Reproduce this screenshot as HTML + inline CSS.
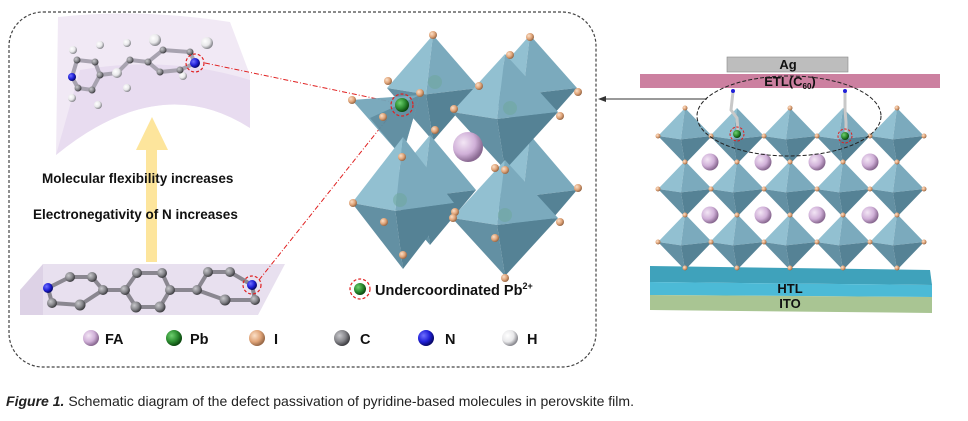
<!DOCTYPE html>
<html><head><meta charset="utf-8"><style>
html,body{margin:0;padding:0;background:#fff;}
svg{display:block;}
text{font-family:"Liberation Sans",sans-serif;}
</style></head><body>
<svg width="968" height="421" viewBox="0 0 968 421" xmlns="http://www.w3.org/2000/svg">
<defs>
<radialGradient id="gFA" cx="35%" cy="35%" r="65%"><stop offset="0" stop-color="#f3e6f5"/><stop offset="0.6" stop-color="#d0b0d8"/><stop offset="1" stop-color="#8a6a92"/></radialGradient>
<radialGradient id="gPb" cx="35%" cy="35%" r="65%"><stop offset="0" stop-color="#6fd06f"/><stop offset="0.6" stop-color="#2c8c30"/><stop offset="1" stop-color="#0d4a10"/></radialGradient>
<radialGradient id="gI" cx="35%" cy="35%" r="65%"><stop offset="0" stop-color="#fbe0c8"/><stop offset="0.6" stop-color="#e0a478"/><stop offset="1" stop-color="#9a6a48"/></radialGradient>
<radialGradient id="gC" cx="35%" cy="35%" r="65%"><stop offset="0" stop-color="#c8c8cc"/><stop offset="0.6" stop-color="#85858a"/><stop offset="1" stop-color="#404044"/></radialGradient>
<radialGradient id="gN" cx="35%" cy="35%" r="65%"><stop offset="0" stop-color="#7070ff"/><stop offset="0.6" stop-color="#2020d8"/><stop offset="1" stop-color="#08086a"/></radialGradient>
<radialGradient id="gH" cx="35%" cy="35%" r="65%"><stop offset="0" stop-color="#ffffff"/><stop offset="0.6" stop-color="#e8e8ea"/><stop offset="1" stop-color="#8a8a90"/></radialGradient>
<g id="oct">
<polygon points="0,-1 -1,0 -0.15,0.12" fill="#8dbdcf"/>
<polygon points="0,-1 1,0 -0.15,0.12" fill="#74a6ba"/>
<polygon points="0,1 -1,0 -0.15,0.12" fill="#5b8b9f"/>
<polygon points="0,1 1,0 -0.15,0.12" fill="#4c7c90"/>
</g>
</defs>

<rect x="9" y="12" width="587" height="355" rx="34" fill="none" stroke="#444" stroke-width="1.2" stroke-dasharray="3,2"/>

<path d="M58,17 Q140,8 230,22 L250,75 L250,128 Q160,70 56,155 Z" fill="#f1e9f5"/>
<path d="M80,70 Q170,55 250,80 L250,128 Q160,70 56,155 Z" fill="#e8dcf0"/>
<g stroke="#a8a3b0" stroke-width="4" fill="none" stroke-linecap="round">
<polyline points="72,77 77,60 95,62 100,75 92,90 78,88 72,77"/>
<polyline points="100,75 117,73 130,60 148,62"/>
<polyline points="148,62 163,50 190,52 195,63 180,70 160,72 148,62"/>
</g>
<g fill="url(#gH)">
<circle cx="73" cy="50" r="4"/><circle cx="100" cy="45" r="4"/><circle cx="72" cy="98" r="4"/><circle cx="98" cy="105" r="4"/>
<circle cx="127" cy="43" r="4"/><circle cx="155" cy="40" r="6"/><circle cx="207" cy="43" r="6"/><circle cx="127" cy="88" r="4"/><circle cx="183" cy="76" r="4"/><circle cx="117" cy="73" r="5"/>
</g>
<g fill="url(#gC)">
<circle cx="77" cy="60" r="3.5"/><circle cx="95" cy="62" r="3.5"/><circle cx="100" cy="75" r="3.5"/><circle cx="92" cy="90" r="3.5"/><circle cx="78" cy="88" r="3.5"/>
<circle cx="130" cy="60" r="3.5"/><circle cx="148" cy="62" r="3.5"/><circle cx="163" cy="50" r="3.5"/><circle cx="190" cy="52" r="3.5"/><circle cx="180" cy="70" r="3.5"/><circle cx="160" cy="72" r="3.5"/>
</g>
<circle cx="72" cy="77" r="4" fill="url(#gN)"/>
<circle cx="195" cy="63" r="5" fill="url(#gN)"/>
<circle cx="195" cy="63" r="9" fill="none" stroke="#e02020" stroke-width="1.2" stroke-dasharray="3,2"/>

<polygon points="152,117 168,150 157,150 157,262 146,262 146,150 136,150" fill="#fde59c"/>

<text x="42" y="183" font-size="13.5" font-weight="bold" fill="#111">Molecular flexibility increases</text>
<text x="33" y="219" font-size="13.5" font-weight="bold" fill="#111">Electronegativity of N increases</text>

<polygon points="43,264 285,264 258,315 20,315" fill="#e8e0ef"/>
<polygon points="20,290 43,264 43,315 20,315" fill="#ddd2e6"/>
<g stroke="#8a8790" stroke-width="4" fill="none" stroke-linecap="round">
<polyline points="48,288 70,277 92,277 103,290 80,305 52,303 48,288"/>
<line x1="103" y1="290" x2="125" y2="290"/>
<polyline points="125,290 137,273 162,273 170,290 160,307 136,307 125,290"/>
<line x1="170" y1="290" x2="197" y2="290"/>
<polyline points="197,290 208,272 230,272 252,285 255,300 225,300 197,290"/>
</g>
<g fill="url(#gC)">
<circle cx="70" cy="277" r="5"/><circle cx="92" cy="277" r="5"/><circle cx="103" cy="290" r="5"/><circle cx="80" cy="305" r="5.5"/><circle cx="52" cy="303" r="5"/>
<circle cx="125" cy="290" r="5"/><circle cx="137" cy="273" r="5"/><circle cx="162" cy="273" r="5"/><circle cx="170" cy="290" r="5"/><circle cx="160" cy="307" r="5.5"/><circle cx="136" cy="307" r="5.5"/>
<circle cx="197" cy="290" r="5"/><circle cx="208" cy="272" r="5"/><circle cx="230" cy="272" r="5"/><circle cx="255" cy="300" r="5"/><circle cx="225" cy="300" r="5.5"/>
</g>
<circle cx="48" cy="288" r="5" fill="url(#gN)"/>
<circle cx="252" cy="285" r="5" fill="url(#gN)"/>
<circle cx="252" cy="285" r="9" fill="none" stroke="#e02020" stroke-width="1.2" stroke-dasharray="3,2"/>

<g stroke="#e02020" stroke-width="1" fill="none" stroke-dasharray="5,2,1,2">
<line x1="205" y1="63" x2="392" y2="102"/>
<line x1="259" y1="280" x2="388" y2="118"/>
</g>

<g opacity="0.95">
<use href="#oct" transform="translate(433,88) scale(46,53)"/>
<use href="#oct" transform="translate(530,88) scale(47,53)"/>
<use href="#oct" transform="translate(530,190) scale(47,55)"/>
<use href="#oct" transform="translate(430,190) scale(46,55)"/>
<polygon points="352,100 420,95 402,157" fill="#74a6ba"/>
<polygon points="370,118 420,95 402,157" fill="#5b8b9f"/>
<use href="#oct" transform="translate(505,112) scale(53,58)"/>
<use href="#oct" transform="translate(403,203) scale(51,66)"/>
<use href="#oct" transform="translate(505,218) scale(53,58)"/>
</g>
<g fill="#6ea89a" opacity="0.5">
<circle cx="435" cy="82" r="7"/><circle cx="510" cy="108" r="7"/><circle cx="400" cy="200" r="7"/><circle cx="505" cy="215" r="7"/>
</g>
<circle cx="468" cy="147" r="15" fill="url(#gFA)"/>
<g fill="url(#gI)">
<circle cx="433" cy="35" r="4"/><circle cx="388" cy="81" r="4"/><circle cx="479" cy="86" r="4"/>
<circle cx="530" cy="37" r="4"/><circle cx="578" cy="92" r="4"/><circle cx="560" cy="116" r="4"/>
<circle cx="510" cy="55" r="4"/><circle cx="454" cy="109" r="4"/><circle cx="505" cy="170" r="4"/>
<circle cx="352" cy="100" r="4"/><circle cx="420" cy="93" r="4"/><circle cx="383" cy="117" r="4"/><circle cx="402" cy="157" r="4"/>
<circle cx="435" cy="130" r="4"/><circle cx="353" cy="203" r="4"/><circle cx="455" cy="212" r="4"/><circle cx="403" cy="255" r="4"/>
<circle cx="384" cy="222" r="4"/><circle cx="495" cy="168" r="4"/>
<circle cx="453" cy="218" r="4"/><circle cx="560" cy="222" r="4"/><circle cx="505" cy="278" r="4"/><circle cx="578" cy="188" r="4"/><circle cx="495" cy="238" r="4"/>
</g>
<circle cx="402" cy="105" r="7" fill="url(#gPb)"/>
<circle cx="402" cy="105" r="11" fill="none" stroke="#e02020" stroke-width="1.2" stroke-dasharray="3,2"/>

<circle cx="360" cy="289" r="6" fill="url(#gPb)"/>
<circle cx="360" cy="289" r="10" fill="none" stroke="#e02020" stroke-width="1.2" stroke-dasharray="3,2"/>
<text x="375" y="295" font-size="14.5" font-weight="bold" fill="#111">Undercoordinated Pb<tspan font-size="9" dy="-6">2+</tspan></text>

<g font-size="14.5" font-weight="bold" fill="#111">
<circle cx="91" cy="338" r="8" fill="url(#gFA)"/><text x="105" y="344">FA</text>
<circle cx="174" cy="338" r="8" fill="url(#gPb)"/><text x="190" y="344">Pb</text>
<circle cx="257" cy="338" r="8" fill="url(#gI)"/><text x="274" y="344">I</text>
<circle cx="342" cy="338" r="8" fill="url(#gC)"/><text x="360" y="344">C</text>
<circle cx="426" cy="338" r="8" fill="url(#gN)"/><text x="445" y="344">N</text>
<circle cx="510" cy="338" r="8" fill="url(#gH)"/><text x="527" y="344">H</text>
</g>

<line x1="707" y1="99" x2="604" y2="99" stroke="#333" stroke-width="1"/>
<polygon points="598,99 606,96 606,102" fill="#333"/>

<polygon points="650,266 930,270 932,285 650,282" fill="#3fa2bb"/>
<polygon points="650,282 932,285 932,297 650,295" fill="#4cbad6"/>
<polygon points="650,295 932,297 932,313 650,310" fill="#a9c593"/>
<text x="790" y="293" font-size="13" font-weight="bold" fill="#111" text-anchor="middle">HTL</text>
<text x="790" y="308" font-size="13" font-weight="bold" fill="#111" text-anchor="middle">ITO</text>

<g opacity="0.95">
<use href="#oct" transform="translate(685,136) scale(27,28)"/><use href="#oct" transform="translate(737,136) scale(27,28)"/><use href="#oct" transform="translate(790,136) scale(27,28)"/><use href="#oct" transform="translate(843,136) scale(27,28)"/><use href="#oct" transform="translate(897,136) scale(27,28)"/>
<use href="#oct" transform="translate(685,189) scale(27,28)"/><use href="#oct" transform="translate(737,189) scale(27,28)"/><use href="#oct" transform="translate(790,189) scale(27,28)"/><use href="#oct" transform="translate(843,189) scale(27,28)"/><use href="#oct" transform="translate(897,189) scale(27,28)"/>
<use href="#oct" transform="translate(685,242) scale(27,28)"/><use href="#oct" transform="translate(737,242) scale(27,28)"/><use href="#oct" transform="translate(790,242) scale(27,28)"/><use href="#oct" transform="translate(843,242) scale(27,28)"/><use href="#oct" transform="translate(897,242) scale(27,28)"/>
</g>
<g fill="url(#gFA)">
<circle cx="710" cy="162" r="8.5"/><circle cx="763" cy="162" r="8.5"/><circle cx="817" cy="162" r="8.5"/><circle cx="870" cy="162" r="8.5"/>
<circle cx="710" cy="215" r="8.5"/><circle cx="763" cy="215" r="8.5"/><circle cx="817" cy="215" r="8.5"/><circle cx="870" cy="215" r="8.5"/>
</g>
<g fill="url(#gI)">
<circle cx="685" cy="108" r="2.5"/><circle cx="790" cy="108" r="2.5"/><circle cx="897" cy="108" r="2.5"/>
<circle cx="658" cy="136" r="2.5"/><circle cx="711" cy="136" r="2.5"/><circle cx="764" cy="136" r="2.5"/><circle cx="817" cy="136" r="2.5"/><circle cx="870" cy="136" r="2.5"/><circle cx="924" cy="136" r="2.5"/>
<circle cx="685" cy="162" r="2.5"/><circle cx="737" cy="162" r="2.5"/><circle cx="790" cy="162" r="2.5"/><circle cx="843" cy="162" r="2.5"/><circle cx="897" cy="162" r="2.5"/>
<circle cx="658" cy="189" r="2.5"/><circle cx="711" cy="189" r="2.5"/><circle cx="764" cy="189" r="2.5"/><circle cx="817" cy="189" r="2.5"/><circle cx="870" cy="189" r="2.5"/><circle cx="924" cy="189" r="2.5"/>
<circle cx="685" cy="215" r="2.5"/><circle cx="737" cy="215" r="2.5"/><circle cx="790" cy="215" r="2.5"/><circle cx="843" cy="215" r="2.5"/><circle cx="897" cy="215" r="2.5"/>
<circle cx="658" cy="242" r="2.5"/><circle cx="711" cy="242" r="2.5"/><circle cx="764" cy="242" r="2.5"/><circle cx="817" cy="242" r="2.5"/><circle cx="870" cy="242" r="2.5"/><circle cx="924" cy="242" r="2.5"/>
<circle cx="685" cy="268" r="2.5"/><circle cx="737" cy="268" r="2.5"/><circle cx="790" cy="268" r="2.5"/><circle cx="843" cy="268" r="2.5"/><circle cx="897" cy="268" r="2.5"/>
</g>

<rect x="727" y="57" width="121" height="15" fill="#bdbdbd" stroke="#888" stroke-width="0.6"/>
<text x="788" y="69" font-size="13" font-weight="bold" fill="#111" text-anchor="middle">Ag</text>
<rect x="640" y="74" width="300" height="14" fill="#cc80a0"/>
<text x="790" y="86" font-size="13" font-weight="bold" fill="#111" text-anchor="middle">ETL(C<tspan font-size="8" dy="3">60</tspan><tspan dy="-3">)</tspan></text>

<g stroke="#c8c8c8" stroke-width="3" fill="none">
<polyline points="733,92 731,110 737,118 738,132"/>
<polyline points="845,92 845,110 846,122 846,133"/>
</g>
<circle cx="733" cy="91" r="2" fill="#2020d8"/><circle cx="845" cy="91" r="2" fill="#2020d8"/>
<circle cx="737" cy="134" r="4" fill="url(#gPb)"/><circle cx="845" cy="136" r="4" fill="url(#gPb)"/>
<circle cx="737" cy="134" r="7" fill="none" stroke="#e02020" stroke-width="1" stroke-dasharray="2.5,1.5"/>
<circle cx="845" cy="136" r="7" fill="none" stroke="#e02020" stroke-width="1" stroke-dasharray="2.5,1.5"/>
<ellipse cx="789" cy="116" rx="92" ry="40" fill="none" stroke="#222" stroke-width="1" stroke-dasharray="4,2"/>

<text x="6" y="406" font-size="14" fill="#222" textLength="628" lengthAdjust="spacingAndGlyphs"><tspan font-weight="bold" font-style="italic">Figure 1.</tspan> Schematic diagram of the defect passivation of pyridine-based molecules in perovskite film.</text>
</svg>
</body></html>
